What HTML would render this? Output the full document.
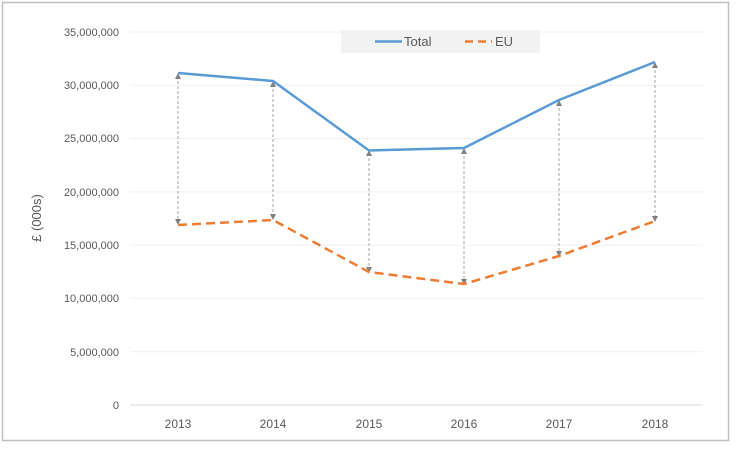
<!DOCTYPE html>
<html><head><meta charset="utf-8"><style>
html,body{margin:0;padding:0;background:#fff}
svg{display:block;font-family:"Liberation Sans",sans-serif}
</style></head><body>
<svg width="735" height="449" viewBox="0 0 735 449">
<rect x="2.5" y="2.5" width="726" height="438" fill="#fff" stroke="#bfbfbf" stroke-width="1.5"/>
<g stroke="#efefef" stroke-width="1">
<line x1="130" x2="703" y1="32" y2="32"/><line x1="130" x2="703" y1="85.3" y2="85.3"/>
<line x1="130" x2="703" y1="138.6" y2="138.6"/><line x1="130" x2="703" y1="191.9" y2="191.9"/>
<line x1="130" x2="703" y1="245.1" y2="245.1"/><line x1="130" x2="703" y1="298.4" y2="298.4"/>
<line x1="130" x2="703" y1="351.7" y2="351.7"/>
</g>
<line x1="130" x2="703" y1="405" y2="405" stroke="#d9d9d9"/>
<g font-size="11" fill="#595959" text-anchor="end">
<text x="119" y="36">35,000,000</text><text x="119" y="89">30,000,000</text>
<text x="119" y="142">25,000,000</text><text x="119" y="196">20,000,000</text>
<text x="119" y="249">15,000,000</text><text x="119" y="302">10,000,000</text>
<text x="119" y="356">5,000,000</text><text x="119" y="409">0</text>
</g>
<g font-size="12" fill="#595959" text-anchor="middle">
<text x="178" y="428">2013</text><text x="273" y="428">2014</text><text x="369" y="428">2015</text>
<text x="464" y="428">2016</text><text x="559" y="428">2017</text><text x="655" y="428">2018</text>
</g>
<text transform="translate(41,218) rotate(-90)" font-size="13" fill="#595959" text-anchor="middle">£ (000s)</text>
<g stroke="#a6a6a6" stroke-width="1" stroke-dasharray="3,2">
<line x1="178" x2="178" y1="76" y2="221"/><line x1="273" x2="273" y1="84" y2="216"/>
<line x1="369" x2="369" y1="153" y2="269"/><line x1="464" x2="464" y1="151" y2="281"/>
<line x1="559" x2="559" y1="103" y2="253"/><line x1="655" x2="655" y1="65" y2="218"/>
</g>
<g fill="#808080">
<path d="M175,79 L181,79 L178,73Z"/><path d="M270,87 L276,87 L273,81Z"/><path d="M366,156 L372,156 L369,150Z"/>
<path d="M461,154 L467,154 L464,148Z"/><path d="M556,106 L562,106 L559,100Z"/><path d="M652,68 L658,68 L655,62Z"/>
<path d="M175,219 L181,219 L178,225Z"/><path d="M270,214 L276,214 L273,220Z"/><path d="M366,267 L372,267 L369,273Z"/>
<path d="M461,279 L467,279 L464,285Z"/><path d="M556,251 L562,251 L559,257Z"/><path d="M652,216 L658,216 L655,222Z"/>
</g>
<polyline points="178,73 273,81 369,150.5 464,148 559,100 655,62" fill="none" stroke="#5b9bd5" stroke-width="2.5"/>
<polyline points="178,225 273,220 369,272 464,284 559,256 655,221" fill="none" stroke="#ed7d31" stroke-width="2.5" stroke-dasharray="9,5"/>
<rect x="341" y="30" width="199" height="23" fill="#f2f2f2"/>
<line x1="375" x2="402" y1="41.5" y2="41.5" stroke="#5b9bd5" stroke-width="2.5"/>
<text x="404" y="46" font-size="13" fill="#595959">Total</text>
<line x1="465" x2="492" y1="41.5" y2="41.5" stroke="#ed7d31" stroke-width="2.5" stroke-dasharray="8,5"/>
<text x="495" y="46" font-size="13" fill="#595959">EU</text>
</svg>
</body></html>
